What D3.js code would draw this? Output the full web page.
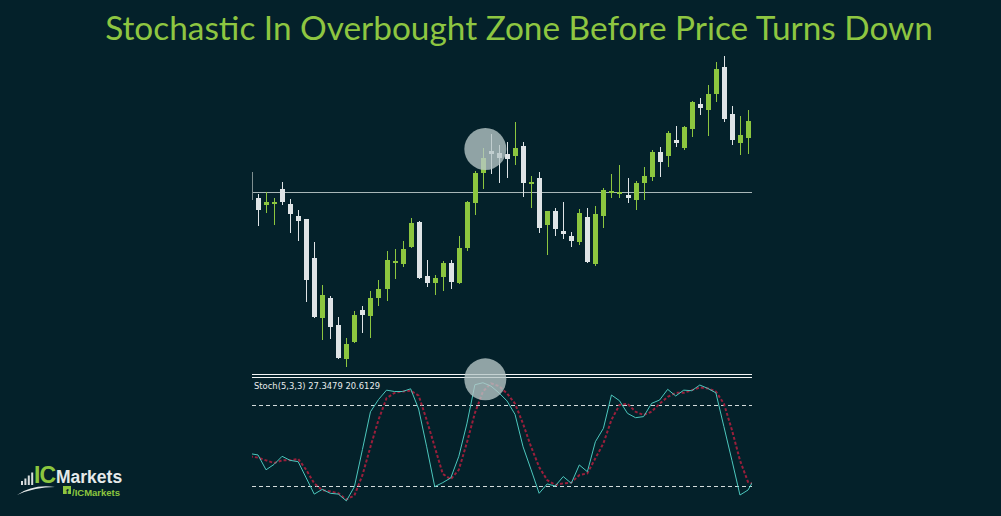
<!DOCTYPE html>
<html>
<head>
<meta charset="utf-8">
<script src="https://cdn.jsdelivr.net/npm/d3@7"></script>
<style>
  html, body { margin: 0; padding: 0; background: #04212a; overflow: hidden; }
  svg { display: block; }
</style>
</head>
<body>
<svg id="chart"></svg>
<script>
// chart data (price in chart units)
const opens  = [172,165,166,181,166,154,151,112, 52, 72, 45, 11, 28, 60, 54, 72, 81,107,106,123,148, 94, 87, 93,107, 87,122,167,197,219,217,216,214,224,186,192,145,159,139,134,128,153,106,154,177,176,175,170,187,193,218,214,230,222,241,266,260,276,303,256,227,232];
const highs  = [176,178,172,188,171,160,151,128, 85, 74, 53, 32, 59, 64, 79, 90,119,121,129,152,149,110, 95,109,110,134,169,199,222,236,225,228,248,228,194,198,159,162,168,138,161,162,164,182,196,205,192,189,203,220,223,239,244,244,269,272,285,308,314,264,254,260];
const lows   = [144,157,145,165,137,129, 68, 52, 30, 31, 11,  3, 27, 37, 32, 64, 69, 91,103,122, 91, 83, 75, 79, 81, 86,119,155,181,196,187,192,205,173,162,137,115,134,131,123,125,107,104,142,172,172,167,160,170,189,193,203,223,220,233,255,234,268,248,225,215,216];
const closes = [160,168,168,168,156,149, 90, 53, 75, 43, 12, 26, 55, 55, 72, 81,110,109,121,147, 92, 87, 92,107, 88,122,168,197,212,216,212,211,222,187,188,142,159,141,136,129,157,108,156,180,179,178,172,187,194,218,208,237,227,243,268,262,276,301,251,230,235,249];
const priceLevel = 178;

// stochastic lines start one bar before the first candle and end one bar after
const stochK = [44,43,32,36,42,39,38,26,14,17.5,14.6,14,9,19.5,47,75,84,91,90,90,92,77,49,19.5,22.5,26,42,66,95,96.5,94,89,83,73,49,32,14.6,21.5,20,27,22,35.6,30.6,52.8,62.7,87.4,83.2,73.8,70.6,71.4,81.2,83.7,91.6,86.7,91,90.6,94.8,92.3,89,64,39,13.3,17,27.35];
const stochD = [42,41,39,37,39,39,40,32,22,17,16,14.6,10,13,28,49,69,85,89,90,90.6,87,69,49,29,25,32,52,74,90,96,94,88.6,81,66,49,34,24.4,20.7,22,22.5,28,29.4,40.5,51.6,69,80,81,75,72.6,75,81,86,89,89,91,93,92.3,90,81,61.5,39,23,20.6];
const stochLevels = [20, 80];

const titleText = "Stochastic In Overbought Zone Before Price Turns Down";
const stochLabel = "Stoch(5,3,3) 27.3479 20.6129";
const highlightBar = 28.3;
const highlightPrice = 221;
const highlightStoch = 99;

const width = 1001, height = 516;
const bg = "#04212a";
const green = "#8cc63f";
const white = "#dfe4e6";

const svg = d3.select("#chart")
    .attr("width", width)
    .attr("height", height)
    .attr("viewBox", [0, 0, width, height]);

svg.append("rect").attr("width", width).attr("height", height).attr("fill", bg);

const left = 252, right = 752;
const x = d3.scaleLinear().domain([0, opens.length - 1]).range([258, 748]);
const y = d3.scaleLinear().domain([0, 320]).range([370, 50]);
const ys = d3.scaleLinear().domain([0, 100]).range([513, 378]);

svg.append("clipPath").attr("id", "plotClip")
    .append("rect").attr("x", left).attr("y", 0).attr("width", right - left).attr("height", height);

// title
const title = svg.append("text")
    .attr("x", 519)
    .attr("y", 40)
    .attr("text-anchor", "middle")
    .style("font-family", "Lato, 'Open Sans', sans-serif")
    .style("font-size", "36px")
    .style("fill", "#8ec641")
    .text(titleText);
const tw = title.node().getComputedTextLength();
title.style("font-size", (36 * 828 / tw).toFixed(2) + "px");

// price panel
const price = svg.append("g").attr("clip-path", "url(#plotClip)");

price.append("line")
    .attr("x1", left).attr("x2", right)
    .attr("y1", y(priceLevel) + 0.5).attr("y2", y(priceLevel) + 0.5)
    .attr("stroke", "#a9b7b8").attr("stroke-width", 1);

svg.append("line")
    .attr("x1", left + 0.5).attr("x2", left + 0.5)
    .attr("y1", 172).attr("y2", 200)
    .attr("stroke", "#7f8f90").attr("stroke-width", 1);

const bars = d3.range(opens.length).map(i => ({
    i, o: opens[i], h: highs[i], l: lows[i], c: closes[i]
}));

const candle = price.append("g")
    .selectAll("g")
    .data(bars)
    .join("g")
    .attr("fill", d => d.c >= d.o ? green : white)
    .attr("stroke", d => d.c >= d.o ? green : white);

candle.append("line")
    .attr("x1", d => Math.round(x(d.i)) + 0.5)
    .attr("x2", d => Math.round(x(d.i)) + 0.5)
    .attr("y1", d => y(d.h))
    .attr("y2", d => y(d.l))
    .attr("stroke-width", 1);

candle.append("rect")
    .attr("x", d => Math.round(x(d.i)) - 2)
    .attr("width", 5)
    .attr("y", d => y(Math.max(d.o, d.c)))
    .attr("height", d => Math.max(2, Math.abs(y(d.o) - y(d.c))))
    .attr("stroke", "none");

// stochastic panel
svg.append("g")
    .selectAll("line")
    .data([374, 377])
    .join("line")
    .attr("x1", left).attr("x2", right)
    .attr("y1", d => d + 0.5).attr("y2", d => d + 0.5)
    .attr("stroke", "#f2f4f4").attr("stroke-width", 1);

svg.append("text")
    .attr("x", 254)
    .attr("y", 389)
    .style("font-family", "'DejaVu Sans', sans-serif")
    .style("font-size", "8.4px")
    .style("fill", "#e8ecec")
    .text(stochLabel);

const stoch = svg.append("g").attr("clip-path", "url(#plotClip)");

stoch.selectAll("line.level")
    .data(stochLevels)
    .join("line")
    .attr("class", "level")
    .attr("x1", left).attr("x2", right)
    .attr("y1", d => Math.round(ys(d)) + 0.5).attr("y2", d => Math.round(ys(d)) + 0.5)
    .attr("stroke", "#d4dcdc").attr("stroke-width", 1)
    .attr("stroke-dasharray", "4,3");

const stochLine = d3.line()
    .x((d, i) => x(i - 1))
    .y(d => ys(d));

stoch.append("path")
    .datum(stochD)
    .attr("d", stochLine)
    .attr("fill", "none")
    .attr("stroke", "#9a1f3b")
    .attr("stroke-width", 2)
    .attr("stroke-dasharray", "3,2");

stoch.append("path")
    .datum(stochK)
    .attr("d", stochLine)
    .attr("fill", "none")
    .attr("stroke", "#4cc7bd")
    .attr("stroke-width", 1);

// highlight circles
svg.append("g")
    .selectAll("circle")
    .data([[highlightBar, y(highlightPrice)], [highlightBar, ys(highlightStoch)]])
    .join("circle")
    .attr("cx", d => x(d[0]))
    .attr("cy", d => d[1])
    .attr("r", 21)
    .attr("fill", "#b9c8c8")
    .attr("fill-opacity", 0.78);

// logo
const logo = svg.append("g");
logo.selectAll("rect.bar")
    .data([4, 6.5, 9.5, 12.5])
    .join("rect")
    .attr("class", "bar")
    .attr("x", (d, i) => 21 + i * 3.4)
    .attr("y", d => 485 - d)
    .attr("width", 2)
    .attr("height", d => d)
    .attr("fill", "#d9dede");
logo.append("path")
    .attr("d", "M17,495 Q33,484 55,487 Q35,487 17,495 Z")
    .attr("fill", "#e6eaea");
logo.append("text")
    .attr("x", 34).attr("y", 483)
    .style("font-family", "'Liberation Sans', Arial, sans-serif")
    .style("font-weight", "bold")
    .style("font-size", "23px")
    .style("letter-spacing", "-1px")
    .style("fill", green)
    .text("IC");
logo.append("text")
    .attr("x", 56).attr("y", 482.5)
    .style("font-family", "'Liberation Sans', Arial, sans-serif")
    .style("font-weight", "bold")
    .style("font-size", "17.5px")
    .style("fill", "#e6eaea")
    .text("Markets");
logo.append("rect")
    .attr("x", 63).attr("y", 486).attr("width", 8).attr("height", 8)
    .attr("fill", green);
logo.append("text")
    .attr("x", 66).attr("y", 494)
    .style("font-family", "'Liberation Sans', Arial, sans-serif")
    .style("font-weight", "bold")
    .style("font-size", "7.5px")
    .style("fill", bg)
    .text("f");
logo.append("text")
    .attr("x", 72).attr("y", 495.5)
    .style("font-family", "'Liberation Sans', Arial, sans-serif")
    .style("font-weight", "bold")
    .style("font-size", "9.5px")
    .style("fill", green)
    .text("/ICMarkets");
</script>
</body>
</html>
